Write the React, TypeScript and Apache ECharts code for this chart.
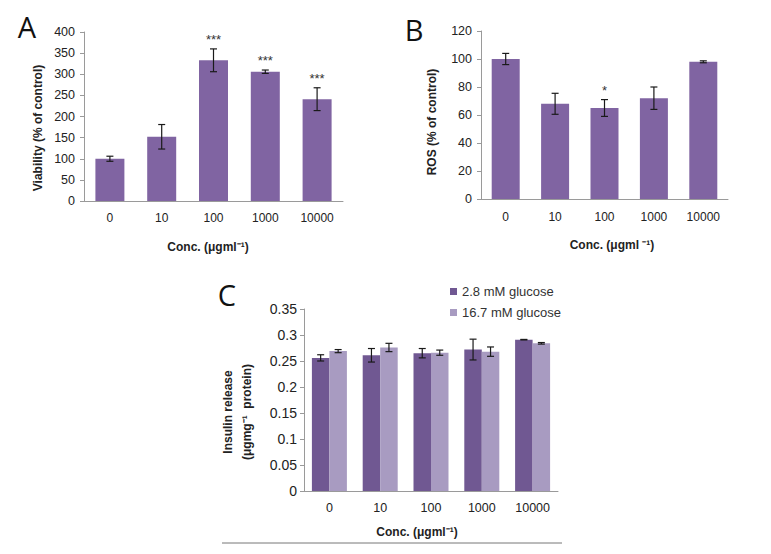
import React, { useEffect, useRef } from "react";
import * as echarts from "echarts";

const categories = ["0", "10", "100", "1000", "10000"];

const viability = [100, 152, 333, 306, 241];
const viabilityErr = [6, 29, 27, 4, 27];
const viabilityStars = ["", "", "***", "***", "***"];
const viabilityTicks = { min: 0, max: 400, interval: 50 };

const ros = [100, 68, 65, 72, 98];
const rosErr = [4, 7.5, 6, 8, 0.7];
const rosStars = ["", "", "*", "", ""];
const rosTicks = { min: 0, max: 120, interval: 20 };

const seriesNames = ["2.8 mM glucose", "16.7 mM glucose"];
const insulinLow = [0.256, 0.261, 0.265, 0.272, 0.291];
const insulinLowErr = [0.006, 0.013, 0.009, 0.02, 0.0005];
const insulinHigh = [0.269, 0.276, 0.266, 0.268, 0.284];
const insulinHighErr = [0.003, 0.008, 0.005, 0.009, 0.0015];
const insulinTicks = { min: 0, max: 0.35, interval: 0.05 };

const FONT = "'Liberation Sans', Arial, sans-serif";
const LETTER_FONT = "'Open Sans', 'Liberation Sans', sans-serif";
const AXIS_COLOR = "#9a9a9a";
const TEXT = "#222";

function errorSeries(
  gridIdx: number,
  values: number[],
  errs: number[],
  stars: string[] | null,
  shift: number,
  capHalf: number
) {
  return {
    type: "custom",
    xAxisIndex: gridIdx,
    yAxisIndex: gridIdx,
    z: 10,
    silent: true,
    data: values.map((v, i) => [i, v - errs[i], v + errs[i]]),
    renderItem: (params: any, api: any) => {
      const lo = api.coord([api.value(0), api.value(1)]);
      const hi = api.coord([api.value(0), api.value(2)]);
      const x = lo[0] + shift;
      const st = { stroke: "#1a1a1a", lineWidth: 1.2 };
      const children: any[] = [
        { type: "line", shape: { x1: x, y1: lo[1], x2: x, y2: hi[1] }, style: st },
        { type: "line", shape: { x1: x - capHalf, y1: lo[1], x2: x + capHalf, y2: lo[1] }, style: st },
        { type: "line", shape: { x1: x - capHalf, y1: hi[1], x2: x + capHalf, y2: hi[1] }, style: st },
      ];
      const star = stars ? stars[params.dataIndex] : "";
      if (star) {
        children.push({
          type: "text",
          x,
          y: hi[1] - 3,
          style: {
            text: star,
            fontSize: 13,
            fontFamily: FONT,
            fill: "#333",
            align: "center",
            verticalAlign: "bottom",
          },
        });
      }
      return { type: "group", children };
    },
  };
}

function yAxisCfg(gridIdx: number, ticks: any, fontSize: number, margin: number) {
  return {
    type: "value",
    gridIndex: gridIdx,
    min: ticks.min,
    max: ticks.max,
    interval: ticks.interval,
    axisLine: { show: true, lineStyle: { color: AXIS_COLOR, width: 1 } },
    axisTick: { show: true, length: 4, inside: false, lineStyle: { color: AXIS_COLOR } },
    splitLine: { show: false },
    axisLabel: { fontSize, color: TEXT, fontFamily: FONT, margin },
  };
}

function xAxisCfg(gridIdx: number, fontSize: number, margin: number) {
  return {
    type: "category",
    gridIndex: gridIdx,
    data: categories,
    axisLine: { show: true, lineStyle: { color: AXIS_COLOR, width: 1 } },
    axisTick: { show: false },
    axisLabel: { fontSize, color: TEXT, fontFamily: FONT, margin },
  };
}

function label(text: string, x: number, y: number, opts: any = {}) {
  return {
    type: "text",
    x,
    y,
    rotation: opts.rotation || 0,
    style: {
      text,
      fontSize: opts.fontSize || 12,
      fontWeight: opts.fontWeight || "bold",
      fontFamily: opts.fontFamily || FONT,
      fill: opts.fill || TEXT,
      align: opts.align || "center",
      verticalAlign: opts.verticalAlign || "middle",
      lineHeight: opts.lineHeight,
    },
  };
}

export default function App() {
  const ref = useRef<HTMLDivElement>(null);

  useEffect(() => {
    if (!ref.current) return;
    const chart = echarts.init(ref.current, undefined, { renderer: "svg" });
    const option: any = {
      animation: false,
      backgroundColor: "#ffffff",
      textStyle: { fontFamily: FONT },
      grid: [
        { left: 84, top: 32, width: 259, height: 169 },
        { left: 481, top: 31, width: 247, height: 168 },
        { left: 304, top: 309, width: 254, height: 182 },
      ],
      xAxis: [xAxisCfg(0, 12, 11), xAxisCfg(1, 12, 12), xAxisCfg(2, 12.5, 10)],
      yAxis: [
        yAxisCfg(0, viabilityTicks, 12.5, 9),
        yAxisCfg(1, rosTicks, 12.5, 9),
        yAxisCfg(2, insulinTicks, 14, 7),
      ],
      legend: {
        orient: "vertical",
        left: 445,
        top: 280,
        itemWidth: 7,
        itemHeight: 7,
        itemGap: 8,
        icon: "rect",
        selectedMode: false,
        textStyle: { fontSize: 13, color: "#333", fontFamily: FONT },
        data: seriesNames,
      },
      series: [
        {
          type: "bar",
          xAxisIndex: 0,
          yAxisIndex: 0,
          data: viability,
          barWidth: 29,
          itemStyle: { color: "#8064a2" },
        },
        errorSeries(0, viability, viabilityErr, viabilityStars, 0, 3.5),
        {
          type: "bar",
          xAxisIndex: 1,
          yAxisIndex: 1,
          data: ros,
          barWidth: 28,
          itemStyle: { color: "#8064a2" },
        },
        errorSeries(1, ros, rosErr, rosStars, 0, 3.5),
        {
          type: "bar",
          name: seriesNames[0],
          xAxisIndex: 2,
          yAxisIndex: 2,
          data: insulinLow,
          barWidth: 17.5,
          barGap: "0%",
          itemStyle: { color: "#705892" },
        },
        {
          type: "bar",
          name: seriesNames[1],
          xAxisIndex: 2,
          yAxisIndex: 2,
          data: insulinHigh,
          barWidth: 17.5,
          barGap: "0%",
          itemStyle: { color: "#a89bc1" },
        },
        errorSeries(2, insulinLow, insulinLowErr, null, -8.75, 3.5),
        errorSeries(2, insulinHigh, insulinHighErr, null, 8.75, 3.5),
      ],
      graphic: [
        label("A", 27, 26, { fontSize: 29, fontWeight: "normal", fontFamily: LETTER_FONT, fill: "#111" }),
        label("B", 414, 29, { fontSize: 29, fontWeight: "normal", fontFamily: LETTER_FONT, fill: "#111" }),
        label("C", 227, 294, { fontSize: 29, fontWeight: "normal", fontFamily: LETTER_FONT, fill: "#111" }),
        label("Viability (% of control)", 38, 128, { rotation: Math.PI / 2 }),
        label("ROS (% of control)", 432, 122, { rotation: Math.PI / 2 }),
        label("Insulin release\n(μgmg⁻¹  protein)", 237, 412, { rotation: Math.PI / 2, lineHeight: 19 }),
        label("Conc. (μgml⁻¹)", 208, 247),
        label("Conc. (μgml ⁻¹)", 612, 245),
        label("Conc. (μgml⁻¹)", 417, 532),
        {
          type: "line",
          shape: { x1: 222, y1: 543, x2: 562, y2: 543 },
          style: { stroke: "#777", lineWidth: 1 },
        },
      ],
    };
    chart.setOption(option);
    return () => chart.dispose();
  }, []);

  return (
    <div
      ref={ref}
      style={{ position: "absolute", left: 0, top: 0, width: 771, height: 554 }}
    />
  );
}
